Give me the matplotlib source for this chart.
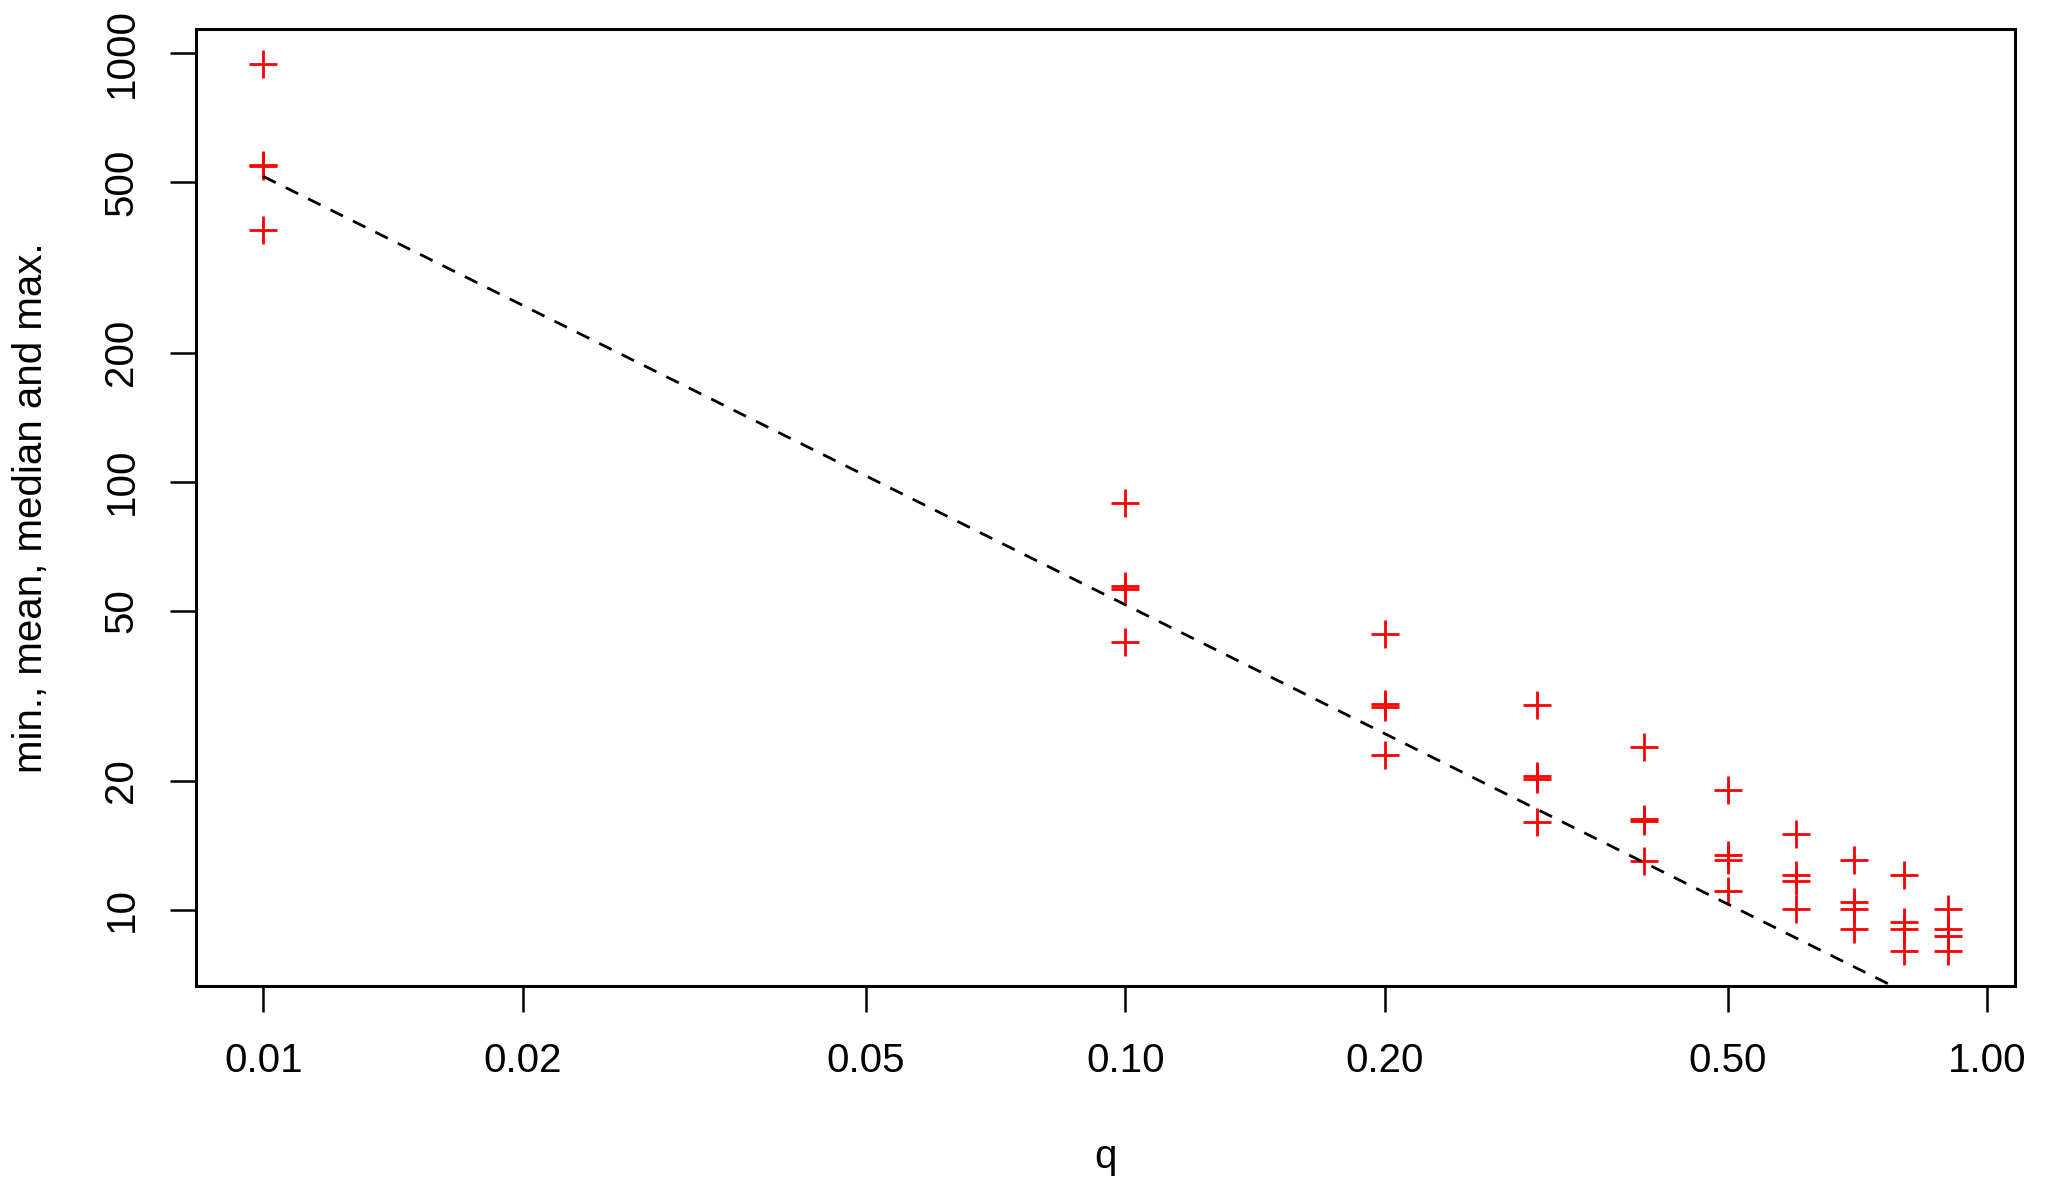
import numpy as np
import matplotlib
matplotlib.use("Agg")
import matplotlib.pyplot as plt
from matplotlib.ticker import FixedLocator, FixedFormatter, NullLocator

# ---- data ----
q = [0.01, 0.1, 0.2, 0.3, 0.4, 0.5, 0.6, 0.7, 0.8, 0.9]
y_min    = [387, 42.2, 23.05, 16.05, 13.04, 11.05, 10.06, 9.05, 8.04, 8.04]
y_mean   = [545, 56.3, 29.8, 20.2, 16.1, 13.06, 11.67, 10.06, 9.05, 8.68]
y_median = [550, 57.0, 30.2, 20.6, 16.3, 13.46, 12.05, 10.42, 9.36, 9.05]
y_max    = [944, 89.1, 44.2, 30.05, 24.06, 19.1, 15.08, 13.06, 12.05, 10.06]

line_coef = 5.16          # reference line y = coef / q
line_q = [0.01, 1.0]

x_ticks = [0.01, 0.02, 0.05, 0.10, 0.20, 0.50, 1.00]
x_ticklabels = ["0.01", "0.02", "0.05", "0.10", "0.20", "0.50", "1.00"]
y_ticks = [10, 20, 50, 100, 200, 500, 1000]
y_ticklabels = ["10", "20", "50", "100", "200", "500", "1000"]

plt.rcParams['font.family'] = ['Liberation Sans', 'DejaVu Sans']

fig = plt.figure(figsize=(20.48, 11.95), dpi=100)
ax = fig.add_axes([0.0957, 0.1749, 0.984 - 0.0957, 0.976 - 0.1749])

qs = np.array(q)
for ys in (y_min, y_mean, y_median, y_max):
    ax.plot(qs, ys, linestyle='none', marker='+', color='red',
            markersize=20, markeredgewidth=2.0)

lq = np.array(line_q)
ax.plot(lq, line_coef / lq, linestyle=(0, (5, 4)), color='black', lw=2.0,
        scalex=False, scaley=False)

ax.set_xscale('log')
ax.set_yscale('log')

# R-style 4% extension in log space
allx = np.log10(qs)
ally = np.log10(np.concatenate([y_min, y_mean, y_median, y_max]))
dx = (allx.max() - allx.min()) * 0.04
dy = (ally.max() - ally.min()) * 0.04
ax.set_xlim(10 ** (allx.min() - dx), 10 ** (allx.max() + dx))
ax.set_ylim(10 ** (ally.min() - dy), 10 ** (ally.max() + dy))

ax.xaxis.set_major_locator(FixedLocator(x_ticks))
ax.xaxis.set_major_formatter(FixedFormatter(x_ticklabels))
ax.xaxis.set_minor_locator(NullLocator())
ax.yaxis.set_major_locator(FixedLocator(y_ticks))
ax.yaxis.set_major_formatter(FixedFormatter(y_ticklabels))
ax.yaxis.set_minor_locator(NullLocator())

ax.tick_params(axis='both', direction='out', length=19, width=1.8,
               labelsize=29, pad=21)
for lab in ax.get_yticklabels():
    lab.set_rotation(90)
    lab.set_va('center')

for sp in ax.spines.values():
    sp.set_linewidth(2.2)

ax.set_xlabel('q', fontsize=29, labelpad=42)
ax.set_ylabel('min., mean, median and max.', fontsize=29, labelpad=38)

fig.savefig('out.png', dpi=100)
